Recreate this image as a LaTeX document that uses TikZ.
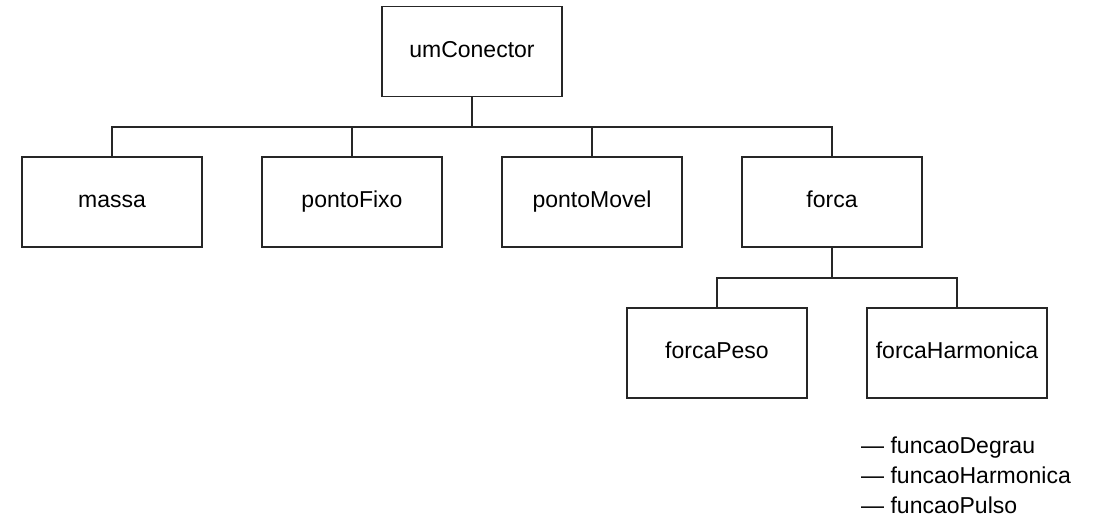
\documentclass[tikz,border=0pt]{standalone}
\usepackage{fontspec}
\setmainfont{Liberation Sans}
\begin{document}
\begin{tikzpicture}[x=1pt,y=-1pt,
  box/.style={draw=black!85, line width=1.6pt, minimum width=180pt, minimum height=90pt,
    inner sep=0pt, font=\fontsize{23}{28}\selectfont, text height=16.5pt, text depth=4.8pt},
  conn/.style={draw=black!85, line width=1.6pt},
  item/.style={anchor=base west, inner sep=0pt, font=\fontsize{23}{28}\selectfont}]
\useasboundingbox (0,0) rectangle (1104,517);
\node[box] (um) at (472,51.5) {umConector};
\node[box] (massa) at (112,202) {massa};
\node[box] (fixo) at (352,202) {pontoFixo};
\node[box] (movel) at (592,202) {pontoMovel};
\node[box] (forca) at (832,202) {forca};
\node[box] (peso) at (717,353) {forcaPeso};
\node[box] (harm) at (957,353) {forcaHarmonica};
\coordinate (bus) at (0,127);
\coordinate (bus2) at (0,278);
\draw[conn] (um.south) -- (um.south |- bus) -| (massa.north);
\draw[conn] (um.south |- bus) -| (fixo.north);
\draw[conn] (um.south |- bus) -| (movel.north);
\draw[conn] (um.south |- bus) -| (forca.north);
\draw[conn] (forca.south) -- (forca.south |- bus2) -| (peso.north);
\draw[conn] (forca.south |- bus2) -| (harm.north);
\node[item] (l1) at (861,453) {— funcaoDegrau};
\node[item] (l2) at (861,483) {— funcaoHarmonica};
\node[item] (l3) at (861,513) {— funcaoPulso};
\end{tikzpicture}
\end{document}
